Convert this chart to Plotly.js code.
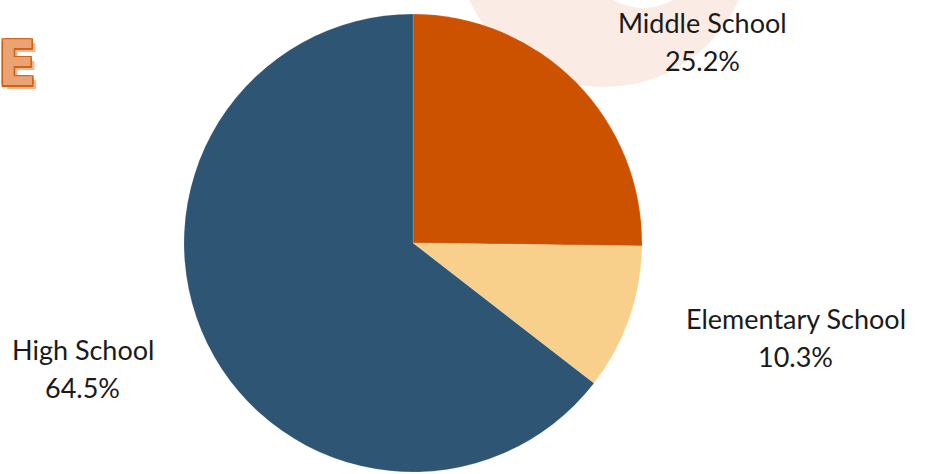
<!DOCTYPE html>
<html>
<head>
<meta charset="utf-8">
<script src="https://cdn.plot.ly/plotly-3.0.1.min.js"></script>
<style>html,body{margin:0;padding:0;background:#fff;}#chart{width:933px;height:474px;}</style>
</head>
<body>
<div id="chart"></div>
<script>
// ---- data ----
const categories = ["Middle School", "Elementary School", "High School"];
const shares = [25.2, 10.3, 64.5];
const sliceColors = ["#CC5200", "#F8D08B", "#2E5574"];

// ---- geometry (pixels) ----
const W = 933, H = 474;
const cx = 413, cy = 243, R = 229;
const px = x => x / W;
const py = y => 1 - y / H;

const FONT = "Lato, 'Open Sans', sans-serif";
const FS = 27;

function measure(t) {
  const c = document.createElement("canvas").getContext("2d");
  c.font = FS + "px Lato";
  return c.measureText(t).width;
}

const total = shares.reduce((a, b) => a + b, 0);
const annotations = [];
let cum = 0;
shares.forEach((v, i) => {
  const mid = (cum + v / 2) / total * 2 * Math.PI;
  cum += v;
  const ax = cx + 1.25 * R * Math.sin(mid);
  const ay = cy - 1.25 * R * Math.cos(mid);
  const side = Math.sin(mid) >= 0 ? 1 : -1;
  const pct = v.toFixed(1) + "%";
  const bw = Math.max(measure(categories[i]), measure(pct));
  const bx = ax + side * (2 + bw / 2);
  [[categories[i], 19], [pct, -19]].forEach(([t, s]) => {
    annotations.push({
      text: t, xref: "paper", yref: "paper", x: px(bx), y: py(ay),
      xanchor: "center", yanchor: "middle", yshift: s, showarrow: false,
      font: {family: FONT, size: FS, color: "#1a1a1a"}
    });
  });
});

// decorative cropped heading letter
annotations.push({
  text: "E", xref: "paper", yref: "paper", x: 0, y: py(63), xanchor: "left", yanchor: "middle",
  xshift: -4, showarrow: false,
  font: {family: "'DejaVu Sans Condensed', 'DejaVu Sans'", weight: 700, size: 62, color: "#EAA374",
    shadow: "-1.5px -1.5px 0 #D2620F, 1.5px -1.5px 0 #D2620F, -1.5px 1.5px 0 #D2620F, 1.5px 1.5px 0 #D2620F, 4px 4px 0 #EDB792"}
});

const shapes = [
  {type: "circle", xref: "paper", yref: "paper", layer: "below",
   x0: px(604 - 148), x1: px(604 + 148), y0: py(-61 + 148), y1: py(-61 - 148),
   fillcolor: "#FAECE4", line: {width: 0}},
  {type: "circle", xref: "paper", yref: "paper", layer: "below",
   x0: px(643 - 58), x1: px(643 + 58), y0: py(-50 + 58), y1: py(-50 - 58),
   fillcolor: "#FFFFFF", line: {width: 0}}
];

const trace = {
  type: "pie",
  labels: categories,
  values: shares,
  sort: false,
  direction: "clockwise",
  rotation: 0,
  textinfo: "none",
  hoverinfo: "skip",
  marker: {colors: sliceColors, line: {color: "rgba(255,255,255,0.3)", width: 0.5}},
  domain: {x: [px(cx - R), px(cx + R)], y: [py(cy + R), py(cy - R)]},
  showlegend: false
};

Plotly.newPlot("chart", [trace], {
  width: W, height: H,
  margin: {l: 0, r: 0, t: 0, b: 0},
  paper_bgcolor: "#ffffff",
  showlegend: false,
  shapes: shapes,
  annotations: annotations,
  font: {family: FONT}
}, {displayModeBar: false, staticPlot: true});
</script>
</body>
</html>
